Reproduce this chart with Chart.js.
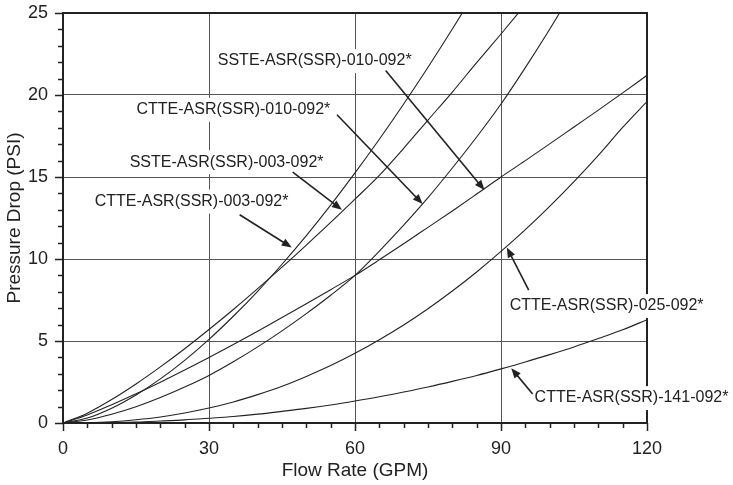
<!DOCTYPE html>
<html>
<head>
<meta charset="utf-8">
<script src="https://cdn.jsdelivr.net/npm/chart.js@4/dist/chart.umd.min.js"></script>
<style>
  html, body { margin: 0; padding: 0; background: #fff; overflow: hidden; }
</style>
</head>
<body>
<canvas id="dropChart" width="733" height="485"></canvas>
<script>
// Flow rate (GPM) every 5 GPM
const flow = [0,5,10,15,20,25,30,35,40,45,50,55,60,65,70,75,80,85,90,95,100,105,110,115,120];

// Pressure drop (PSI) - stops once the curve leaves the top
const ctte003 = [0,0.30,0.90,1.71,2.69,3.82,5.1,6.51,8.03,9.68,11.43,13.29,15.25,17.30,19.45,21.69,24.02,26.44];
const sste003 = [0,0.60,1.43,2.38,3.42,4.53,5.7,6.92,8.19,9.50,10.85,12.23,13.65,15.1,16.75,18.47,20.18,21.97,23.72,25.52];
const sste010 = [0,0.49,1.11,1.78,2.49,3.23,4.0,4.79,5.60,6.43,7.27,8.13,9.0,9.95,10.93,11.93,12.93,13.96,15.0,16.0,17.02,18.05,19.08,20.13,21.2];
const ctte010 = [0,0.18,0.53,0.99,1.55,2.19,2.9,3.73,4.64,5.62,6.67,7.79,9.0,10.48,12.06,13.74,15.55,17.44,19.45,21.67,24.01,26.47];
const ctte025 = [0,0.02,0.08,0.20,0.37,0.61,0.91,1.28,1.73,2.24,2.84,3.50,4.25,5.08,5.98,6.97,8.05,9.21,10.46,11.79,13.21,14.72,16.32,18.02,19.6];
const ctte141 = [0,0.01,0.03,0.06,0.12,0.19,0.29,0.40,0.54,0.71,0.89,1.10,1.34,1.60,1.89,2.20,2.54,2.90,3.30,3.72,4.17,4.64,5.15,5.68,6.3];

// Callout labels (data units: GPM, PSI)
const noteText = [
  "SSTE-ASR(SSR)-010-092*",
  "CTTE-ASR(SSR)-010-092*",
  "SSTE-ASR(SSR)-003-092*",
  "CTTE-ASR(SSR)-003-092*",
  "CTTE-ASR(SSR)-025-092*",
  "CTTE-ASR(SSR)-141-092*"
];
const noteAt    = [[31.8,22.07],[15.1,19.1],[13.7,15.9],[6.5,13.5],[91.8,7.13],[96.9,1.52]];
const arrowFrom = [[66.3,21.5],[56.3,18.8],[47.2,15.3],[36.3,12.7],[95.7,8.1],[96.5,1.77]];
const arrowTo   = [[86.6,14.2],[73.9,13.35],[57.3,13.0],[47.0,10.7],[91.2,10.7],[92.1,3.34]];

const INK = "#222";
const FONT = "'Liberation Sans', Arial, sans-serif";

function series(label, vals) {
  return {
    label: label,
    data: vals.map((v, i) => ({ x: flow[i], y: v })),
    borderColor: INK,
    borderWidth: 1.1,
    pointRadius: 0,
    fill: false,
    cubicInterpolationMode: "monotone"
  };
}

// frame, tick marks and the arrow callouts
const calloutPlugin = {
  id: "callouts",
  afterDatasetsDraw(chart) {
    const { ctx, chartArea: a, scales: { x, y } } = chart;
    ctx.save();

    ctx.strokeStyle = INK;
    ctx.lineWidth = 1.5;
    ctx.beginPath();
    x.ticks.forEach(t => {
      const px = Math.round(x.getPixelForValue(t.value)) + 0.5;
      const len = t.value % 30 === 0 ? 8 : 5;
      ctx.moveTo(px, a.bottom);
      ctx.lineTo(px, a.bottom + len);
    });
    y.ticks.forEach(t => {
      const py = Math.round(y.getPixelForValue(t.value)) + 0.5;
      const len = t.value % 5 === 0 ? 8 : 5;
      ctx.moveTo(a.left, py);
      ctx.lineTo(a.left - len, py);
    });
    ctx.stroke();

    ctx.lineWidth = 2;
    ctx.strokeRect(a.left, a.top, a.right - a.left, a.bottom - a.top);

    ctx.font = "16px " + FONT;
    ctx.textBaseline = "middle";
    ctx.textAlign = "left";
    noteText.forEach((txt, i) => {
      const tx = x.getPixelForValue(noteAt[i][0]);
      const ty = y.getPixelForValue(noteAt[i][1]);
      const w = ctx.measureText(txt).width;
      ctx.fillStyle = "#fff";
      ctx.fillRect(tx - 3, ty - 12, w + 6, 24);
      ctx.fillStyle = INK;
      ctx.fillText(txt, tx, ty);

      // arrow
      const x0 = x.getPixelForValue(arrowFrom[i][0]), y0 = y.getPixelForValue(arrowFrom[i][1]);
      const x1 = x.getPixelForValue(arrowTo[i][0]),   y1 = y.getPixelForValue(arrowTo[i][1]);
      const ang = Math.atan2(y1 - y0, x1 - x0);
      const hl = 10, hw = 4;
      ctx.strokeStyle = INK;
      ctx.lineWidth = 1.6;
      ctx.beginPath();
      ctx.moveTo(x0, y0);
      ctx.lineTo(x1 - Math.cos(ang) * hl * 0.8, y1 - Math.sin(ang) * hl * 0.8);
      ctx.stroke();
      ctx.beginPath();
      ctx.moveTo(x1, y1);
      ctx.lineTo(x1 - Math.cos(ang) * hl - Math.sin(ang) * hw, y1 - Math.sin(ang) * hl + Math.cos(ang) * hw);
      ctx.lineTo(x1 - Math.cos(ang) * hl + Math.sin(ang) * hw, y1 - Math.sin(ang) * hl - Math.cos(ang) * hw);
      ctx.closePath();
      ctx.fill();
    });
    ctx.restore();
  }
};

new Chart(document.getElementById("dropChart"), {
  type: "line",
  data: {
    datasets: [
      series("CTTE-ASR(SSR)-003-092*", ctte003),
      series("SSTE-ASR(SSR)-003-092*", sste003),
      series("SSTE-ASR(SSR)-010-092*", sste010),
      series("CTTE-ASR(SSR)-010-092*", ctte010),
      series("CTTE-ASR(SSR)-025-092*", ctte025),
      series("CTTE-ASR(SSR)-141-092*", ctte141)
    ]
  },
  options: {
    responsive: false,
    animation: false,
    devicePixelRatio: 1,
    layout: { padding: { top: 13, right: 86, bottom: 0, left: 0 } },
    plugins: {
      legend: { display: false },
      tooltip: { enabled: false }
    },
    scales: {
      x: {
        type: "linear",
        min: 0,
        max: 120,
        afterFit: s => { s.height = 62; s.paddingLeft = 0; s.paddingRight = 0; },
        border: { display: false },
        grid: {
          drawTicks: false,
          lineWidth: 1,
          color: c => (c.tick && c.tick.value % 30 === 0) ? "#555" : "rgba(0,0,0,0)"
        },
        ticks: {
          stepSize: 5,
          autoSkip: false,
          maxRotation: 0,
          padding: 15,
          color: INK,
          font: { family: FONT, size: 18 },
          callback: v => v % 30 === 0 ? v : ""
        },
        title: {
          display: true,
          text: "Flow Rate (GPM)",
          color: INK,
          font: { family: FONT, size: 19 },
          padding: { top: 0, bottom: 3 }
        }
      },
      y: {
        min: 0,
        max: 25,
        afterFit: s => { s.width = 63; s.paddingTop = 0; s.paddingBottom = 0; },
        border: { display: false },
        grid: {
          drawTicks: false,
          lineWidth: 1,
          color: c => (c.tick && c.tick.value % 5 === 0) ? "#555" : "rgba(0,0,0,0)"
        },
        ticks: {
          stepSize: 1,
          autoSkip: false,
          padding: 15,
          color: INK,
          font: { family: FONT, size: 18 },
          callback: v => v % 5 === 0 ? v : ""
        },
        title: {
          display: true,
          text: "Pressure Drop (PSI)",
          color: INK,
          font: { family: FONT, size: 19 },
          padding: { top: 3, bottom: 0 }
        }
      }
    }
  },
  plugins: [calloutPlugin]
});
</script>
</body>
</html>
